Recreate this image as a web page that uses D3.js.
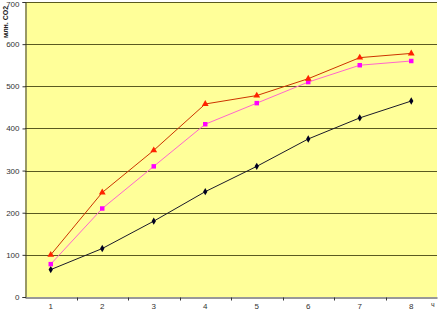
<!DOCTYPE html>
<html>
<head>
<meta charset="utf-8">
<script src="https://cdn.jsdelivr.net/npm/d3@7"></script>
<style>
	body { margin: 0; background: #fff; }
	svg text { font-family: "Liberation Sans", Arial, sans-serif; }
</style>
</head>
<body>
<div id="chart"></div>
<script>
const categories = [1, 2, 3, 4, 5, 6, 7, 8];
const seriesBlack = [65, 115, 180, 250, 310, 375, 425, 465];
const seriesMagenta = [78, 210, 310, 410, 460, 510, 550, 560];
const seriesRed = [100, 248, 348, 458, 478, 518, 568, 578];
const yTicks = [0, 100, 200, 300, 400, 500, 600, 700];

const width = 438, height = 311;
const plotLeft = 25, plotRight = 437, plotTop = 2, plotBottom = 297;

const svg = d3.select("#chart")
	.append("svg")
	.attr("width", width)
	.attr("height", height);

const x = d3.scaleBand().domain(categories).range([plotLeft, plotRight]);
const y = d3.scaleLinear().domain([0, 700]).range([plotBottom, plotTop]);

// plot background
svg.append("rect")
	.attr("x", plotLeft)
	.attr("y", plotTop)
	.attr("width", plotRight - plotLeft)
	.attr("height", plotBottom - plotTop)
	.attr("fill", "#ffff99");

// gridlines
svg.append("g")
	.selectAll("line")
	.data(yTicks.filter((d) => d > 0))
	.enter()
	.append("line")
	.attr("x1", plotLeft)
	.attr("x2", plotRight)
	.attr("y1", (d) => Math.round(y(d)) + 0.5)
	.attr("y2", (d) => Math.round(y(d)) + 0.5)
	.attr("stroke", "#5a5a20")
	.attr("stroke-width", 1);

// y axis
const yAxis = svg.append("g")
	.attr("transform", `translate(${plotLeft + 0.5},0)`)
	.call(d3.axisLeft(y).tickValues(yTicks).tickSize(3).tickPadding(3));
yAxis.selectAll("text").attr("font-size", 8).attr("fill", "#333");
yAxis.select(".tick:last-of-type text").attr("dy", "0.5em");
yAxis.selectAll("line, path").attr("stroke", "#333");

// x axis
const xAxis = svg.append("g")
	.attr("transform", `translate(0,${plotBottom + 0.5})`)
	.call(d3.axisBottom(x).tickSize(0).tickPadding(6));
xAxis.selectAll("text").attr("font-size", 8).attr("fill", "#333");
xAxis.selectAll("path").attr("stroke", "#333");
xAxis.selectAll(".sep")
	.data(categories.slice(1))
	.enter()
	.append("line")
	.attr("class", "sep")
	.attr("x1", (d) => Math.round(x(d)) + 0.5)
	.attr("x2", (d) => Math.round(x(d)) + 0.5)
	.attr("y1", 0)
	.attr("y2", 3)
	.attr("stroke", "#333");

// y axis title
svg.append("text")
	.attr("transform", "translate(8,38) rotate(-90)")
	.attr("text-anchor", "start")
	.attr("font-size", 7)
	.attr("font-weight", "bold")
	.attr("fill", "#222")
	.text("млн. CO2");

// x axis title at the right edge
svg.append("text")
	.attr("x", 431)
	.attr("y", 307)
	.attr("font-size", 7)
	.attr("fill", "#333")
	.text("ч");

const cx = (d) => x(d) + x.bandwidth() / 2;
const line = (vals) => d3.line().x((d, i) => cx(categories[i])).y((d) => y(d))(vals);

const series = [
	{ values: seriesBlack, line: "#1a1a2a", marker: "#000020", shape: d3.symbolDiamond, size: 16 },
	{ values: seriesMagenta, line: "#ff66cc", marker: "#ff00ff", shape: d3.symbolSquare, size: 20 },
	{ values: seriesRed, line: "#cc3300", marker: "#ff2200", shape: d3.symbolTriangle, size: 20 },
];

series.forEach((s) => {
	svg.append("path")
		.attr("d", line(s.values))
		.attr("fill", "none")
		.attr("stroke", s.line)
		.attr("stroke-width", 1);
	svg.append("g")
		.selectAll("path")
		.data(s.values)
		.enter()
		.append("path")
		.attr("transform", (d, i) => `translate(${cx(categories[i])},${y(d)})`)
		.attr("d", d3.symbol().type(s.shape).size(s.size))
		.attr("fill", s.marker);
});
</script>
</body>
</html>
